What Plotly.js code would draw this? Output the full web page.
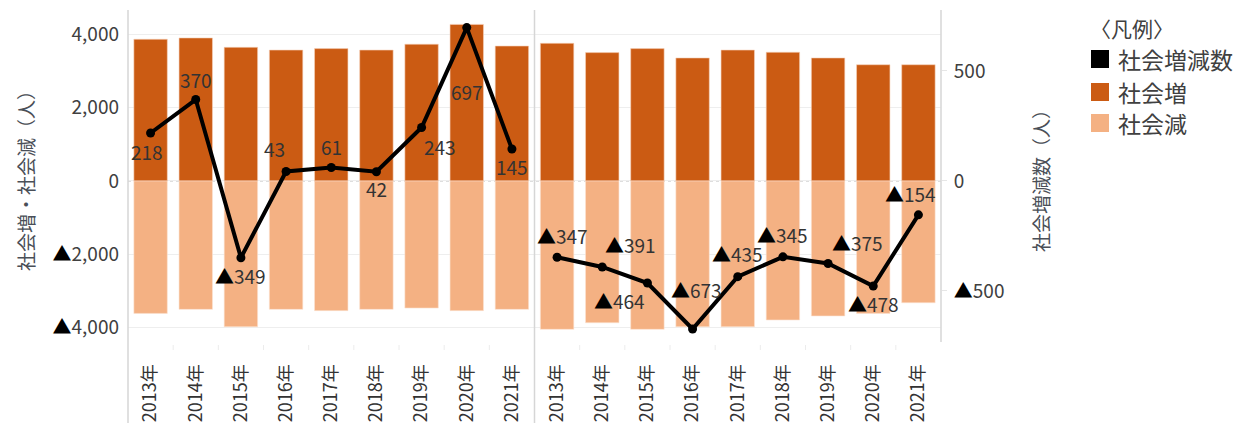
<!DOCTYPE html>
<html>
<head>
<meta charset="utf-8">
<script src="https://cdn.plot.ly/plotly-3.0.1.min.js"></script>
<style>html,body{margin:0;padding:0;background:#fff;}#chart{width:1239px;height:423px;}</style>
</head>
<body>
<div id="chart"></div>
<script>
// ---- data ----
const years = ['2013年','2014年','2015年','2016年','2017年','2018年','2019年','2020年','2021年'];
const increaseA = [3865, 3900, 3645, 3570, 3610, 3570, 3730, 4270, 3680];
const decreaseA = [-3610, -3500, -3975, -3500, -3535, -3500, -3465, -3535, -3500];
const netA = [218, 370, -349, 43, 61, 42, 243, 697, 145];
const increaseB = [3755, 3500, 3610, 3355, 3570, 3510, 3355, 3170, 3170];
const decreaseB = [-4045, -3865, -4045, -3975, -3975, -3790, -3680, -3610, -3320];
const netB = [-347, -391, -464, -673, -435, -345, -375, -478, -154];
const leftTicks = [-4000, -2000, 0, 2000, 4000];
const rightTicks = [-500, 0, 500];
const seriesNames = ['社会増減数', '社会増', '社会減'];

// ---- style ----
const FONT = '"Noto Sans CJK JP", "Noto Sans", sans-serif';
const TXT = '#404040';
const C_NET = '#000000';
const C_INC = '#CB5B13';
const C_DEC = '#F4B183';
const W = 1239, H = 423, L = 128, R = 941, T = 10, B = 342;
const px = x => (x - L) / (R - L);
const py = y => (B - y) / (B - T);

const fmt = v => (v < 0 ? '<span style="color:#000000">▲</span>' : '') + Math.abs(v).toLocaleString('en-US');

const idxA = years.map((_, i) => i);
const idxB = years.map((_, i) => i + years.length);
const allIdx = idxA.concat(idxB);
const allYears = years.concat(years);

const barW = 0.74;
const traces = [
  {type:'bar', x: idxA.concat(idxB), y: increaseA.concat(increaseB), marker:{color:C_INC, line:{color:'#f6d2bb', width:0.6}}, width: barW, name: seriesNames[1], showlegend:false, hoverinfo:'skip'},
  {type:'bar', x: idxA.concat(idxB), y: decreaseA.concat(decreaseB), marker:{color:C_DEC, line:{color:'#fbe2d2', width:0.6}}, width: barW, name: seriesNames[2], showlegend:false, hoverinfo:'skip'},
  {type:'scatter', mode:'lines+markers', x: idxA, y: netA, yaxis:'y2', line:{color:C_NET, width:4}, marker:{color:C_NET, size:9}, name: seriesNames[0], showlegend:false, hoverinfo:'skip'},
  {type:'scatter', mode:'lines+markers', x: idxB, y: netB, yaxis:'y2', line:{color:C_NET, width:4}, marker:{color:C_NET, size:9}, name: seriesNames[0], showlegend:false, hoverinfo:'skip'}
];

// label offsets in pixels (dx right, dy down)
const offA = [[-4,19],[0,-20],[0,18],[-12,-23],[0,-21],[0,17],[18,19],[0,64],[0,17]];
const offB = [[5,-22],[28,-22],[-28,17],[4,-40],[0,-23],[0,-22],[29,-21],[0,17],[-8,-21]];

const annotations = [];
function addLabels(idx, vals, offs){
  vals.forEach((v, i) => {
    annotations.push({x: idx[i], y: v, xref:'x', yref:'y2', text: fmt(v), showarrow:false,
      xshift: offs[i][0], yshift: -offs[i][1], xanchor:'center', yanchor:'middle',
      font:{family:FONT, size:19, color:'#333333'}});
  });
}
addLabels(idxA, netA, offA);
addLabels(idxB, netB, offB);

// legend (manual)
const legColors = [C_NET, C_INC, C_DEC];
const legY = [59, 92, 123];
annotations.push({xref:'paper', yref:'paper', x: px(1088), y: py(28), xanchor:'left', yanchor:'middle', text:'〈凡例〉', showarrow:false, font:{family:FONT, size:21, color:TXT}});
const shapes = [];
seriesNames.forEach((n, i) => {
  shapes.push({type:'rect', xref:'paper', yref:'paper', x0: px(1091), x1: px(1109), y0: py(legY[i]-9), y1: py(legY[i]+9), fillcolor: legColors[i], line:{width:0}});
  annotations.push({xref:'paper', yref:'paper', x: px(1116), y: py(legY[i]), xanchor:'left', yanchor:'middle', text:n, showarrow:false, font:{family:FONT, size:23, color:TXT}});
});

// zero line (dotted) and panel frame lines
shapes.push({type:'line', xref:'paper', yref:'y', x0:0, x1:1, y0:0, y1:0, line:{color:'#ffffff', width:1.5}, layer:'below'});
shapes.push({type:'line', xref:'paper', yref:'y', x0:0, x1:1, y0:0, y1:0, line:{color:'#bdbdbd', width:1.2, dash:'dot'}, layer:'below'});
const frameCol = '#d6d6d6';
shapes.push({type:'line', xref:'paper', yref:'paper', x0:0, x1:0, y0:py(H), y1:1, line:{color:frameCol, width:1.5}});
shapes.push({type:'line', xref:'x', yref:'paper', x0:years.length-0.5, x1:years.length-0.5, y0:py(H), y1:1, line:{color:frameCol, width:1.5}});
shapes.push({type:'line', xref:'paper', yref:'paper', x0:1, x1:1, y0:0, y1:1, line:{color:frameCol, width:1.5}});
// faint category boundary ticks
allIdx.forEach(i => {
  if (i === 0 || i === years.length) return;
  shapes.push({type:'line', xref:'x', yref:'paper', x0:i-0.5, x1:i-0.5, y0:py(345), y1:py(350), line:{color:'#ececec', width:1}});
});

const layout = {
  width: W, height: H,
  margin: {l: L, r: W - R, t: T, b: H - B, pad: 0},
  paper_bgcolor:'#ffffff', plot_bgcolor:'#ffffff',
  barmode:'relative',
  showlegend:false,
  font:{family:FONT, color:TXT},
  xaxis:{range:[-0.5, allIdx.length-0.5], tickmode:'array', tickvals: allIdx, ticktext: allYears,
    tickangle:-90, ticks:'outside', ticklen:14, tickcolor:'rgba(0,0,0,0)', showgrid:false, zeroline:false,
    showline:false, tickfont:{family:FONT, size:18, color:'#333333'}, fixedrange:true},
  yaxis:{range:[-4390, 4662], tickmode:'array', tickvals:leftTicks, ticktext:leftTicks.map(fmt),
    showgrid:true, gridcolor:'#eeeeee', gridwidth:1, zeroline:false, showline:false, ticks:'',
    tickfont:{family:FONT, size:19, color:TXT}, ticklabelstandoff:8,
    title:{text:'社会増・社会減（人）', font:{family:FONT, size:19, color:'#4a4f57'}, standoff:12}},
  yaxis2:{overlaying:'y', side:'right', range:[-732, 777], tickmode:'array', tickvals:rightTicks, ticktext:rightTicks.map(fmt),
    showgrid:false, zeroline:false, showline:false, ticks:'outside', ticklen:5, tickcolor:'#e6e6e6',
    tickfont:{family:FONT, size:19, color:TXT}, ticklabelstandoff:3,
    title:{text:'社会増減数（人）', font:{family:FONT, size:19, color:'#4a4f57'}, standoff:32}},
  shapes: shapes,
  annotations: annotations
};

Plotly.newPlot('chart', traces, layout, {staticPlot:true, displayModeBar:false});
</script>
</body>
</html>
